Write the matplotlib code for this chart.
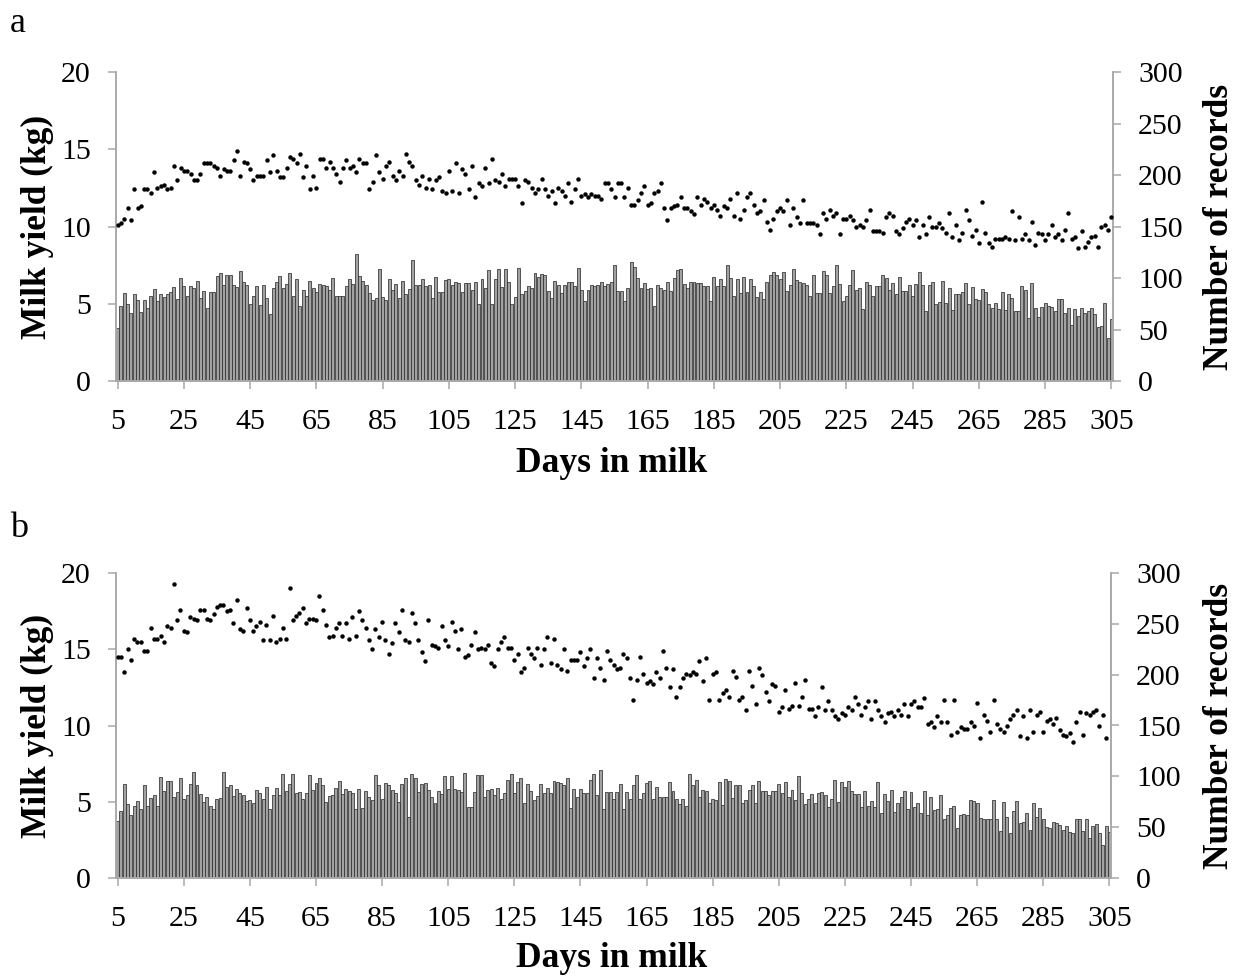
import numpy as np
import matplotlib
matplotlib.use("Agg")
import matplotlib.pyplot as plt

# ---------------- data ----------------
# Panel a: average milk yield (kg) per day in milk, days 5..305
yield_a = [
    10.1, 10.2, 10.5, 11.2, 10.4, 12.4, 11.2, 11.3, 12.4, 12.4,
    12.2, 13.5, 12.5, 12.6, 12.7, 12.4, 12.5, 13.9, 13.0, 13.8,
    13.6, 13.6, 13.4, 13.0, 13.0, 13.4, 14.1, 14.1, 14.1, 13.9,
    13.8, 13.3, 13.7, 13.6, 13.6, 14.3, 14.9, 13.3, 14.2, 14.1,
    13.7, 13.0, 13.3, 13.3, 13.3, 14.3, 13.5, 14.6, 13.6, 13.2,
    13.2, 13.8, 14.5, 14.4, 14.1, 14.7, 13.2, 13.9, 12.4, 13.3,
    12.5, 14.4, 14.4, 13.8, 14.2, 13.8, 13.4, 12.9, 13.8, 14.3,
    13.8, 13.9, 13.5, 14.4, 14.1, 14.1, 12.4, 12.9, 14.6, 13.5,
    13.1, 13.9, 14.2, 13.3, 13.0, 13.6, 13.3, 14.7, 14.2, 13.9,
    13.0, 12.7, 13.3, 12.5, 13.1, 12.4, 13.0, 13.2, 12.3, 12.2,
    13.6,
    12.3, 14.1, 12.2, 13.7, 13.4, 12.4, 13.9, 11.9, 12.8, 12.6,
    13.8, 12.8, 14.4, 13.0, 12.9, 13.4, 12.6, 13.1, 13.1, 13.1,
    12.6, 11.5, 13.0, 12.9, 12.5, 12.2, 12.4, 13.1, 12.4, 12.0,
    12.3, 11.5, 12.5, 12.3, 12.0, 12.8, 11.6, 12.4, 13.1, 12.0,
    12.1, 11.9, 12.1, 12.0, 12.0, 11.8, 12.8, 12.8, 12.4, 11.9,
    12.8, 12.8, 11.9, 12.5, 11.4, 11.4, 11.7, 12.2, 12.6, 11.4,
    11.5, 12.2, 12.3, 12.8, 11.2, 10.4, 11.2, 11.3, 11.4, 11.9,
    11.2, 11.2, 11.0, 10.8, 11.9, 11.4, 11.8, 11.6, 11.2, 11.4,
    11.1, 10.7, 11.3, 11.2, 11.8, 10.7, 12.2, 10.5, 11.1, 11.9,
    12.2, 11.4, 10.9, 11.0, 11.7, 10.3, 9.8,
    10.5, 11.0, 11.2, 11.0, 11.7, 10.1, 11.2, 10.6, 10.2, 11.7,
    10.2, 10.2, 10.2, 10.1, 9.5, 10.9, 10.5, 11.1, 10.7, 10.9,
    9.5, 10.5, 10.5, 10.7, 10.4, 10.0, 10.1, 10.0, 10.4, 11.1,
    9.7, 9.7, 9.7, 9.6, 10.6, 10.9, 10.7, 9.7, 9.5, 9.9,
    10.3, 10.5, 10.1, 10.4, 9.3, 10.1, 9.5, 10.6, 10.0, 10.0,
    10.2, 9.9, 9.6, 10.9, 9.3, 10.1, 9.1, 9.6, 11.1, 10.4,
    9.4, 9.8, 8.9, 11.6, 9.6, 8.9, 8.7, 9.2, 9.2, 9.2,
    9.3, 9.2, 11.0, 9.1, 10.6, 9.2, 9.5, 9.1, 10.3, 8.8,
    9.6, 9.5, 9.1, 9.5, 10.1, 9.3, 9.5, 9.1, 9.8, 10.9,
    9.2, 9.3, 8.6, 9.7, 8.7, 9.0, 9.3, 9.4, 8.7, 10.0, 10.1, 9.8, 10.6,
]

# Panel a: number of records per day in milk
records_a = [
    51, 73, 85, 75, 66, 84, 79, 67, 79, 71,
    83, 89, 78, 84, 82, 84, 86, 91, 80, 100,
    92, 83, 92, 90, 97, 81, 87, 71, 86, 86,
    102, 105, 93, 103, 103, 93, 91, 107, 96, 93,
    75, 83, 92, 74, 93, 81, 65, 90, 96, 102,
    90, 94, 105, 83, 99, 73, 88, 83, 97, 90,
    86, 94, 93, 92, 88, 100, 83, 83, 83, 92,
    99, 94, 123, 102, 97, 93, 85, 79, 81, 109,
    82, 79, 99, 88, 94, 81, 97, 84, 89, 117,
    93, 93, 99, 92, 93, 81, 101, 86, 86, 98,
    99, 93, 96, 95, 86, 95, 95, 88, 96, 75,
    99, 90, 108, 75, 99, 109, 91, 109, 96, 75,
    82, 110, 84, 87, 92, 90, 105, 101, 104, 103,
    87, 81, 97, 93, 85, 93, 96, 96, 92, 110,
    88, 78, 88, 93, 92, 93, 96, 92, 94, 96,
    113, 87, 87, 78, 90, 116, 111, 100, 90, 95,
    89, 90, 73, 93, 90, 88, 96, 87, 100, 108,
    109, 94, 90, 96, 96, 95, 95, 92, 92, 78,
    101, 92, 99, 92, 113, 100, 83, 99, 85, 101,
    86, 99, 92, 82, 86, 80, 96, 103, 106,
    103, 99, 106,
    87, 93, 109, 98, 96, 95, 93, 83, 103, 85,
    85, 107, 103, 85, 92, 113, 94, 78, 83, 93,
    108, 88, 90, 70, 96, 93, 83, 92, 92, 103,
    100, 88, 95, 84, 101, 87, 87, 93, 83, 94,
    106, 93, 68, 93, 96, 75, 77, 97, 76, 90,
    69, 84, 84, 86, 95, 75, 91, 80, 79, 89,
    86, 75, 71, 76, 70, 86, 69, 84, 81, 68,
    68, 92, 88, 61, 95, 71, 62, 72, 76, 73,
    72, 68, 80, 80, 66, 71, 54, 70, 63, 71,
    66, 68, 71, 65, 52, 53, 76, 42, 60,
]

# Panel b: average milk yield (kg) per day in milk
yield_b = [
    14.5, 14.5, 13.5, 15.0, 14.3, 15.7, 15.5, 15.5, 14.9, 14.9,
    16.4, 15.7, 15.7, 15.9, 15.5, 16.5, 16.4, 19.3, 16.9, 17.6,
    16.2, 16.1, 17.1, 17.0, 16.9, 17.6, 17.6, 17.0, 16.9, 17.3,
    17.8, 17.9, 17.9, 17.5, 17.6, 16.7, 18.2, 16.3, 16.2, 17.7,
    16.9, 16.2, 16.5, 16.8, 15.6, 16.6, 15.6, 17.2, 15.5, 15.7,
    16.4, 15.7, 19.0, 16.9, 17.2, 17.4, 17.7, 16.7, 17.0, 17.0,
    16.9, 18.5, 17.6, 16.6, 15.8, 15.9, 16.4, 16.7, 15.9, 16.7,
    15.7, 17.1, 15.9, 17.5, 16.9, 16.4, 15.6, 15.0, 16.3, 15.8,
    16.8, 15.6, 14.7, 15.4, 16.7, 16.1, 17.6, 15.6, 15.5, 17.4,
    16.7, 15.6, 14.8, 14.2, 16.9, 15.3, 15.2, 15.1, 16.5, 15.6,
    15.2,
    16.8, 16.2, 15.0, 16.3, 14.5, 14.6, 15.3, 16.1, 15.0, 15.1,
    15.0, 15.3, 14.1, 13.9, 15.0, 15.5, 15.8, 15.1, 15.1, 14.3,
    14.7, 13.5, 13.8, 15.1, 14.7, 14.4, 15.1, 14.0, 15.0, 15.8,
    14.1, 15.7, 14.0, 13.7, 15.0, 13.6, 14.3, 14.3, 14.3, 14.8,
    13.9, 14.4, 15.0, 13.1, 14.4, 13.8, 13.0, 14.9, 14.3, 14.0,
    13.7, 13.8, 14.7, 14.4, 13.1, 11.7, 13.0, 14.5, 13.4, 12.8,
    12.9, 12.7, 13.5, 13.1, 14.9, 13.8, 12.5, 13.7, 11.9, 12.5,
    13.1, 13.4, 13.3, 13.5, 13.4, 14.2, 12.9, 14.4, 11.7, 13.4,
    13.5, 11.7, 12.1, 12.3, 11.9, 13.6, 13.2, 11.7, 11.9, 11.0,
    13.6, 12.6, 11.4, 13.8, 13.3, 12.2, 11.6, 12.7, 12.6, 10.9,
    11.2, 12.3, 11.1, 11.3, 12.8, 11.3, 11.9, 13.0, 11.1, 11.1,
    10.6, 11.2, 12.5, 11.0, 11.6, 11.0, 10.6, 10.4, 10.8, 10.7,
    11.2, 11.0, 11.9, 11.4, 10.7, 11.2, 11.6, 10.4, 11.6, 11.0,
    10.6, 10.2, 10.8, 10.9, 10.6, 11.0, 10.7, 11.4, 10.6, 11.4,
    11.6, 11.2, 11.2, 11.8, 10.1, 10.2, 9.9, 10.6, 10.2, 11.7,
    10.2, 9.4, 11.7, 9.6, 9.9, 9.8, 9.8, 10.2, 10.0, 11.5,
    9.2, 10.7, 10.3, 9.6, 11.7, 10.1, 9.8, 9.6, 10.0, 10.4,
    10.7, 11.0, 9.3, 10.6, 9.2, 11.0, 9.6, 10.7, 10.9, 9.6,
    10.3, 10.4, 10.1, 10.5, 9.7, 9.4, 9.3, 9.5, 8.9, 10.2,
    10.9, 9.4, 10.8, 10.7, 10.9, 11.0, 10.0, 10.7, 9.2,
]

# Panel b: number of records per day in milk
records_b = [
    56, 66, 92, 73, 62, 71, 76, 68, 91, 71,
    79, 82, 71, 99, 86, 95, 95, 80, 85, 98,
    78, 82, 92, 104, 91, 83, 75, 80, 71, 68,
    78, 79, 104, 90, 91, 81, 88, 84, 82, 76,
    77, 74, 87, 84, 78, 90, 68, 82, 89, 82,
    102, 86, 92, 102, 84, 85, 78, 84, 101, 87, 93,
    98, 91, 75, 81, 82, 89, 95, 83, 88, 86,
    84, 68, 88, 69, 86, 80, 77, 101, 91, 78,
    93, 91, 87, 84, 75, 92, 98, 60, 102, 98,
    85, 92, 93, 87, 80, 74, 86, 83, 100, 88,
    100, 88, 87, 85, 103, 70, 70, 85, 101, 101,
    80, 87, 88, 82, 89, 78, 84, 96, 102, 84,
    94, 98, 74, 92, 86, 77, 81, 92, 84, 89,
    84, 95, 94, 93, 91, 98, 69, 88, 80, 88,
    84, 84, 96, 102, 82, 106, 68, 85, 85, 78,
    85, 92, 68, 85, 78, 91, 101, 78, 84, 93,
    95, 78, 90, 80, 80, 80, 94, 86, 78, 73,
    78, 71, 102, 91, 96, 80, 87, 86, 74, 78,
    77, 94, 72, 97, 95, 79, 91, 91, 74, 77,
    87, 91, 74, 95, 86, 86, 82, 86, 86, 92,
    84, 94, 80, 87, 77, 100, 84, 73, 78, 83,
    74, 84, 85, 82, 70, 78, 96, 75, 94, 90,
    95, 86, 83, 83, 70, 86, 71, 76, 70, 94,
    64, 83, 76, 87, 65, 74, 80, 86, 68, 85,
    70, 74, 64, 86, 62, 80, 67, 68, 82, 58,
    62, 69, 71, 49, 62, 63, 62, 77, 76, 74,
    59, 58, 58, 58, 77, 58, 46, 75, 60, 44,
    66, 76, 54, 55, 64, 47, 74, 60, 69, 58,
    50, 49, 55, 54, 52, 47, 51, 45, 44, 58,
    58, 46, 58, 39, 51, 53, 44, 32, 51, 45,
]

x_ticks = [5, 25, 45, 65, 85, 105, 125, 145, 165, 185, 205, 225, 245, 265, 285, 305]
left_ticks = [0, 5, 10, 15, 20]
right_ticks = [0, 50, 100, 150, 200, 250, 300]
panel_letters = ["a", "b"]
ylabel_left = "Milk yield (kg)"
ylabel_right = "Number of records"
xlabel = "Days in milk"

# ---------------- style ----------------
W, H = 1240, 977
plt.rcParams['font.family'] = ['Liberation Serif', 'DejaVu Serif']
AXCOL = '#a8a8a8'
TICKSIZE = 21.5
LABELSIZE = 25.5

fig = plt.figure(figsize=(W / 100, H / 100), dpi=100)


def px_axes(left, top, right, bottom):
    return [left / W, 1 - bottom / H, (right - left) / W, (bottom - top) / H]


def draw_panel(rect_px, yld, rec, letter, letter_xy, xlabel_top):
    left, top, right, bottom = rect_px
    ax = fig.add_axes(px_axes(*rect_px))
    ax2 = ax.twinx()
    days_bar = np.arange(5, 5 + len(rec))
    days_pt = np.arange(5, 5 + len(yld))

    ax2.bar(days_bar, rec, width=0.9, facecolor='#a2a2a2',
            edgecolor='#303030', linewidth=0.55, zorder=1)
    ax.plot(days_pt, yld, linestyle='none', marker='o', markersize=3.2,
            markerfacecolor='black', markeredgewidth=0, color='black', zorder=3)

    ax.set_zorder(ax2.get_zorder() + 1)
    ax.patch.set_visible(False)

    ax.set_xlim(4.5, 305.5)
    ax.set_ylim(0, 20)
    ax2.set_ylim(0, 300)
    ax.set_xticks(x_ticks)
    ax.set_yticks(left_ticks)
    ax2.set_yticks(right_ticks)

    for a in (ax, ax2):
        a.spines['top'].set_visible(False)
        for s in ('left', 'right', 'bottom'):
            a.spines[s].set_color(AXCOL)
            a.spines[s].set_linewidth(1.1)
        a.tick_params(colors=AXCOL, labelcolor='black', labelsize=TICKSIZE,
                      direction='out', length=6, width=1.1)
    ax.tick_params(axis='y', pad=12)
    ax2.tick_params(axis='y', pad=12)
    ax.tick_params(axis='x', pad=14)

    ax.set_ylabel(ylabel_left, fontsize=LABELSIZE, fontweight='bold')
    ax2.set_ylabel(ylabel_right, fontsize=LABELSIZE, fontweight='bold')
    ax.set_xlabel(xlabel, fontsize=LABELSIZE, fontweight='bold')
    wpx = right - left
    hpx = bottom - top
    ax.yaxis.set_label_coords((54 - left) / wpx, 0.5)
    ax2.yaxis.set_label_coords((1203 - left) / wpx, 0.5)
    ax.xaxis.set_label_coords((612 - left) / wpx, (bottom - xlabel_top) / hpx)

    fig.text(letter_xy[0] / W, 1 - letter_xy[1] / H, letter, fontsize=26,
             ha='left', va='baseline')
    return ax, ax2


draw_panel((116, 72, 1113, 381), yield_a, records_a, panel_letters[0], (10, 32), 447)
draw_panel((116, 573, 1111, 878), yield_b, records_b, panel_letters[1], (10, 537), 942)

fig.savefig("out.png", dpi=100)
